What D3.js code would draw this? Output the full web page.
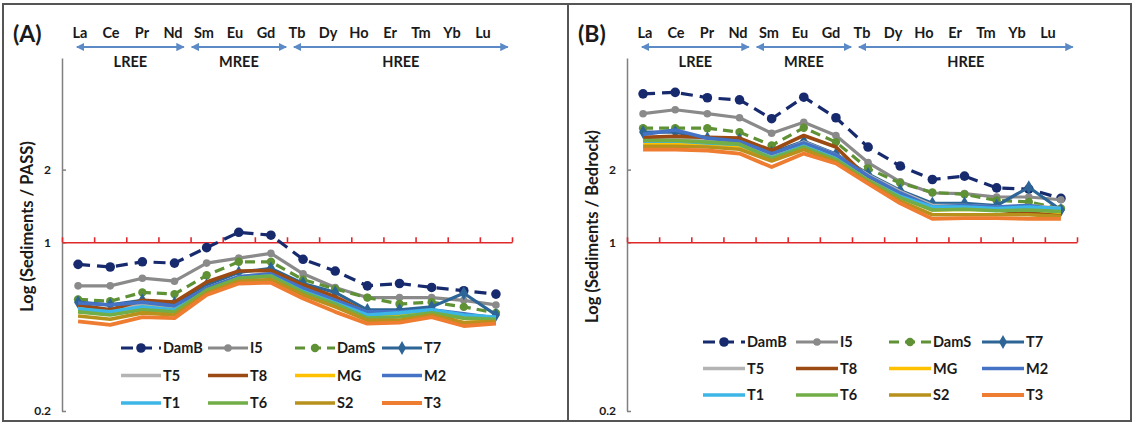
<!DOCTYPE html>
<html><head><meta charset="utf-8">
<script src="https://cdn.jsdelivr.net/npm/d3@7/dist/d3.min.js"></script>
<style>
html,body{margin:0;padding:0;background:#fff;}
svg text{font-family:Lato,"Open Sans","Noto Sans",sans-serif;font-weight:700;fill:#1a1a1a;}
</style></head>
<body><svg id="chart" width="1134" height="426"></svg>
<script>
// ---------- data ----------
const categories = ["La","Ce","Pr","Nd","Sm","Eu","Gd","Tb","Dy","Ho","Er","Tm","Yb","Lu"];
const seriesNames = ["DamB","I5","DamS","T7","T5","T8","MG","M2","T1","T6","S2","T3"];
const yTicks = [0.2, 1, 2];
const groupNames = ["LREE","MREE","HREE"];
const groupFirst = ["La","Sm","Tb"];
const groupLast = ["Nd","Gd","Lu"];

// Panel A: Sediments / PASS
const a_DamB = [0.81,0.79,0.83,0.82,0.95,1.10,1.07,0.85,0.76,0.66,0.675,0.65,0.63,0.61];
const a_I5   = [0.66,0.66,0.71,0.69,0.82,0.86,0.90,0.74,0.65,0.59,0.59,0.59,0.575,0.55];
const a_DamS = [0.58,0.57,0.62,0.61,0.73,0.83,0.83,0.70,0.64,0.59,0.555,0.565,0.54,0.51];
const a_T7   = [0.565,0.55,0.575,0.56,0.665,0.75,0.78,0.675,0.62,0.525,0.525,0.54,0.615,0.50];
const a_T5   = [0.54,0.525,0.555,0.54,0.645,0.72,0.74,0.64,0.57,0.505,0.505,0.52,0.495,0.485];
const a_T8   = [0.55,0.525,0.575,0.565,0.685,0.76,0.765,0.665,0.595,0.51,0.505,0.525,0.455,0.465];
const a_MG   = [0.52,0.505,0.54,0.525,0.635,0.715,0.73,0.635,0.565,0.495,0.495,0.515,0.485,0.475];
const a_M2   = [0.56,0.55,0.565,0.545,0.645,0.72,0.74,0.645,0.575,0.515,0.515,0.525,0.505,0.485];
const a_T1   = [0.53,0.515,0.54,0.525,0.625,0.71,0.725,0.625,0.56,0.50,0.51,0.525,0.50,0.49];
const a_T6   = [0.515,0.50,0.525,0.515,0.635,0.71,0.725,0.62,0.555,0.485,0.49,0.51,0.485,0.48];
const a_S2   = [0.495,0.48,0.51,0.50,0.615,0.69,0.70,0.605,0.54,0.475,0.475,0.50,0.465,0.47];
const a_T3   = [0.47,0.455,0.49,0.485,0.605,0.675,0.68,0.585,0.515,0.46,0.465,0.49,0.45,0.46];

// Panel B: Sediments / Bedrock
const b_DamB = [4.12,4.18,3.97,3.89,3.25,3.99,3.28,2.48,2.07,1.82,1.88,1.68,1.66,1.52];
const b_I5   = [3.41,3.54,3.41,3.28,2.83,3.14,2.77,2.14,1.78,1.60,1.59,1.54,1.54,1.50];
const b_DamS = [2.97,2.97,2.97,2.86,2.52,2.98,2.60,2.02,1.76,1.61,1.58,1.49,1.47,1.38];
const b_T7   = [2.86,2.86,2.70,2.66,2.35,2.62,2.32,1.92,1.64,1.45,1.45,1.42,1.69,1.36];
const b_T5   = [2.70,2.72,2.66,2.60,2.30,2.60,2.30,1.90,1.62,1.42,1.42,1.40,1.42,1.38];
const b_T8   = [2.72,2.75,2.72,2.70,2.40,2.77,2.48,1.84,1.59,1.38,1.38,1.36,1.32,1.30];
const b_MG   = [2.57,2.57,2.55,2.50,2.25,2.52,2.25,1.82,1.55,1.36,1.37,1.36,1.37,1.33];
const b_M2   = [2.80,2.92,2.70,2.62,2.33,2.58,2.30,1.88,1.60,1.40,1.42,1.40,1.42,1.36];
const b_T1   = [2.62,2.63,2.58,2.54,2.24,2.50,2.22,1.80,1.55,1.40,1.40,1.38,1.40,1.38];
const b_T6   = [2.64,2.64,2.60,2.55,2.22,2.48,2.20,1.80,1.53,1.36,1.37,1.35,1.36,1.34];
const b_S2   = [2.50,2.50,2.48,2.43,2.17,2.42,2.15,1.77,1.48,1.30,1.30,1.30,1.30,1.28];
const b_T3   = [2.42,2.42,2.40,2.33,2.05,2.33,2.12,1.75,1.45,1.25,1.26,1.26,1.25,1.25];

const panelAValues = [a_DamB,a_I5,a_DamS,a_T7,a_T5,a_T8,a_MG,a_M2,a_T1,a_T6,a_S2,a_T3];
const panelBValues = [b_DamB,b_I5,b_DamS,b_T7,b_T5,b_T8,b_MG,b_M2,b_T1,b_T6,b_S2,b_T3];

// ---------- styles ----------
const styles = {
  DamB:{color:"#172a6e", dash:"12,7", marker:"circle", r:4.8, w:3.2},
  I5:  {color:"#8a8a8a", dash:null, marker:"circle", r:3.8, w:3.2},
  DamS:{color:"#5f9135", dash:"10,6", marker:"circle", r:4.2, w:3.2},
  T7:  {color:"#2c6596", dash:null, marker:"diamond", r:4.6, w:3.2},
  T5:  {color:"#b4b4b4", dash:null, w:3.6},
  T8:  {color:"#9a4a12", dash:null, w:3.6},
  MG:  {color:"#ffc000", dash:null, w:3.6},
  M2:  {color:"#4472c4", dash:null, w:3.6},
  T1:  {color:"#3cb6e6", dash:null, w:3.6},
  T6:  {color:"#72ae48", dash:null, w:3.6},
  S2:  {color:"#b8901c", dash:null, w:3.6},
  T3:  {color:"#ee7d32", dash:null, w:3.8}
};

const svg = d3.select("#chart");

// frame
svg.append("rect").attr("x",3).attr("y",4).attr("width",1128).attr("height",417)
  .attr("fill","none").attr("stroke","#555").attr("stroke-width",2);
svg.append("line").attr("x1",568).attr("x2",568).attr("y1",4).attr("y2",421)
  .attr("stroke","#555").attr("stroke-width",2);

function drawPanel(ox, values, tag, yTitle, leg) {
  const g = svg.append("g").attr("transform",`translate(${ox},0)`);
  const left = 62, right = 512, top = 58, bottom = 411;

  const x = d3.scaleBand().domain(categories).range([left,right]).padding(0);
  const xEdge = d3.scaleLinear().domain([0,categories.length]).range([left,right]);
  const xLab = d3.scalePoint().domain(categories).range([left+18,left+421]);
  const y = d3.scaleLog().domain([0.2,5.8]).range([bottom,top]);
  const cx = c => x(c) + x.bandwidth()/2;

  // panel tag
  g.append("text").attr("x",13).attr("y",42).style("font-size","23px").text(tag);

  // element labels
  g.selectAll("text.el").data(categories).join("text").attr("class","el")
    .attr("x",d=>xLab(d)).attr("y",38).attr("text-anchor","middle")
    .style("font-size","14.5px").text(d=>d);

  // group arrows
  const step = xLab.step();
  const arrowCol = "#5b8ac6";
  const defs = g.append("defs");
  const mid = "arr"+tag.replace(/\W/g,"");
  defs.append("marker").attr("id",mid+"e").attr("viewBox","0 0 10 10").attr("refX",9).attr("refY",5)
    .attr("markerWidth",4.2).attr("markerHeight",4.2).attr("orient","auto")
    .append("path").attr("d","M0,0L10,5L0,10Z").attr("fill",arrowCol);
  defs.append("marker").attr("id",mid+"s").attr("viewBox","0 0 10 10").attr("refX",1).attr("refY",5)
    .attr("markerWidth",4.2).attr("markerHeight",4.2).attr("orient","auto")
    .append("path").attr("d","M10,0L0,5L10,10Z").attr("fill",arrowCol);
  const padL = [0.1, 0.4, 0.1], padR = [0.35, 0.65, 0.8];
  groupNames.forEach((name,i)=>{
    const x1 = xLab(groupFirst[i]) - padL[i]*step;
    const x2 = xLab(groupLast[i]) + padR[i]*step;
    g.append("line").attr("x1",x1).attr("x2",x2).attr("y1",47).attr("y2",47)
      .attr("stroke",arrowCol).attr("stroke-width",2)
      .attr("marker-start",`url(#${mid}s)`).attr("marker-end",`url(#${mid}e)`);
    g.append("text").attr("x",(x1+x2)/2).attr("y",67).attr("text-anchor","middle")
      .style("font-size","14.5px").text(name);
  });

  // y axis
  const ya = g.append("g").attr("transform",`translate(${left},0)`)
    .call(d3.axisLeft(y).tickValues(yTicks).tickFormat(d=>d).tickSizeInner(-4).tickSizeOuter(0).tickPadding(11));
  ya.selectAll("path,line").attr("stroke","#808080").attr("stroke-width",1.5);
  ya.selectAll("text").style("font-family","Lato,'Open Sans',sans-serif").style("font-weight",700)
    .style("font-size","12px").attr("fill","#1a1a1a");

  // y title
  g.append("text").attr("transform",`translate(33,${(top+bottom)/2-8}) rotate(-90)`)
    .attr("text-anchor","middle").style("font-size","16.5px").text(yTitle);

  // red reference axis at 1
  const ra = g.append("g").attr("transform",`translate(0,${y(1)})`)
    .call(d3.axisTop(xEdge).tickValues(d3.range(categories.length+1)).tickFormat("").tickSizeInner(5).tickSizeOuter(0));
  ra.selectAll("path,line").attr("stroke","#e0282c").attr("stroke-width",1.6);

  // series lines
  const line = d3.line().x((d,i)=>cx(categories[i])).y(d=>y(d));
  seriesNames.forEach((name,si)=>{
    const st = styles[name];
    const vals = values[si];
    g.append("path").datum(vals).attr("d",line).attr("fill","none")
      .attr("stroke",st.color).attr("stroke-width",st.w)
      .attr("stroke-dasharray",st.dash).attr("stroke-linejoin","round");
    if (st.marker) drawMarkers(g, vals.map((v,i)=>[cx(categories[i]), y(v)]), st);
  });

  // legend
  seriesNames.forEach((name,i)=>{
    const st = styles[name];
    const r = Math.floor(i/4), c = i%4;
    const lx = leg.x0 + c*leg.dx, ly = leg.y0 + r*leg.dy;
    g.append("line").attr("x1",lx).attr("x2",lx+leg.len).attr("y1",ly).attr("y2",ly)
      .attr("stroke",st.color).attr("stroke-width",st.w).attr("stroke-dasharray",st.dash);
    if (st.marker) drawMarkers(g, [[lx+leg.len/2, ly]], st);
    g.append("text").attr("x",lx+leg.len+2).attr("y",ly+5).style("font-size","14.5px").text(name);
  });
}

function drawMarkers(g, pts, st) {
  if (st.marker === "circle") {
    g.selectAll(null).data(pts).join("circle").attr("cx",d=>d[0]).attr("cy",d=>d[1])
      .attr("r",st.r).attr("fill",st.color);
  } else {
    const s = d3.symbol().type(d3.symbolDiamond).size(st.r*st.r*2.6);
    g.selectAll(null).data(pts).join("path").attr("d",s)
      .attr("transform",d=>`translate(${d[0]},${d[1]})`).attr("fill",st.color);
  }
}

drawPanel(0, panelAValues, "(A)", "Log (Sediments / PASS)", {x0:121, dx:87, y0:348, dy:27.5, len:40});
drawPanel(565, panelBValues, "(B)", "Log (Sediments / Bedrock)", {x0:138, dx:93, y0:342, dy:26.5, len:42});
</script></body></html>
